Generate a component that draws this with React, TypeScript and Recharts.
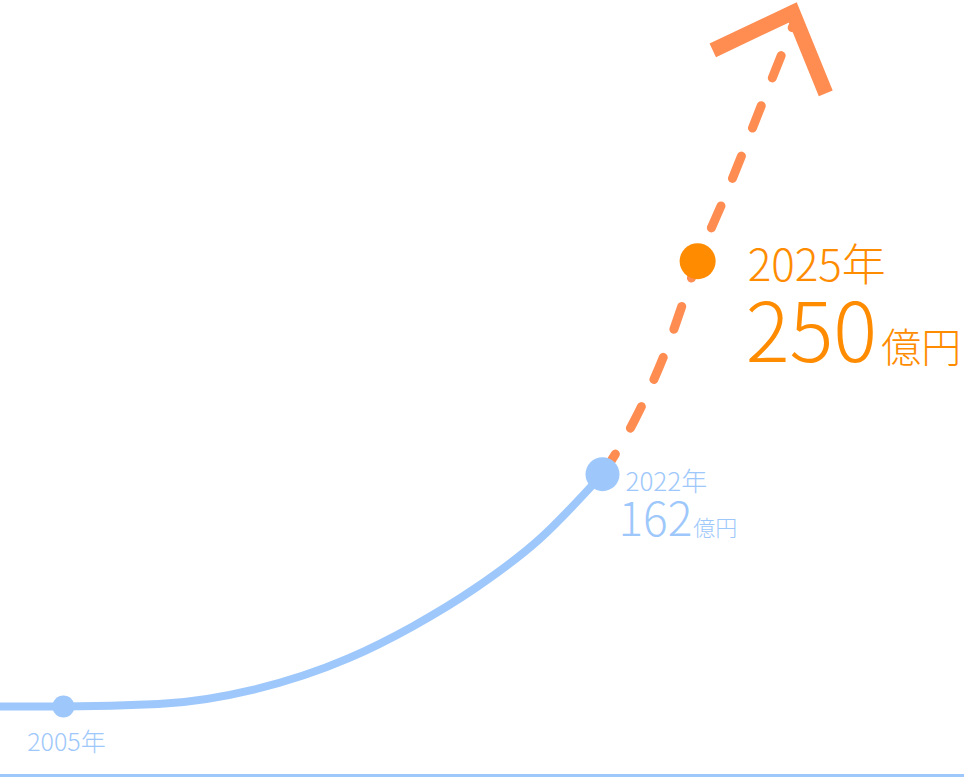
import React from 'react'
import { LineChart, Line, XAxis, YAxis } from 'recharts'

// market size (億円) — actual curve and forecast
const ACTUAL_YEARS  = [2003, 2005, 2008, 2011, 2014, 2016, 2018, 2020, 2022]
const ACTUAL_VALUES = [66, 66, 67, 73, 86, 99, 115, 135, 162]

const FORECAST_YEARS  = [2022, 2023, 2024, 2025, 2026, 2027, 2028]
const FORECAST_VALUES = [162, 184, 213, 250, 281, 314, 347]

const UNIT = '億円'
const YEAR_SUFFIX = '年'

const BLUE        = '#9ec8fb'
const ORANGE_LINE = '#ff8d52'
const ORANGE      = '#ff8c00'
const FONT = '"Noto Sans CJK JP", "Noto Sans", sans-serif'

const actualData   = ACTUAL_YEARS.map((year, i) => ({ year, value: ACTUAL_VALUES[i] }))
const forecastData = FORECAST_YEARS.map((year, i) => ({ year, value: FORECAST_VALUES[i] }))

const START_YEAR = ACTUAL_YEARS[0]
const LAST_ACTUAL = ACTUAL_YEARS[ACTUAL_YEARS.length - 1]
const TARGET_YEAR = 2025
const ARROW_YEAR = FORECAST_YEARS[FORECAST_YEARS.length - 1]

function ActualDot(props: any) {
  const { cx, cy, index, payload } = props
  const key = `a-${index}`
  if (payload.year === 2005) {
    return (
      <g key={key}>
        <circle cx={cx} cy={cy} r={11} fill={BLUE} />
        <text x={cx + 3} y={cy + 44} textAnchor="middle" fontSize={25} fontWeight={300} fill={BLUE} fontFamily={FONT}>
          {payload.year}{YEAR_SUFFIX}
        </text>
      </g>
    )
  }
  if (payload.year === LAST_ACTUAL) {
    return (
      <g key={key}>
        <circle cx={cx} cy={cy} r={17} fill={BLUE} />
        <text x={cx + 23} y={cy + 17} fontSize={26} fontWeight={300} fill={BLUE} fontFamily={FONT}>
          {payload.year}{YEAR_SUFFIX}
        </text>
        <text x={cx + 16} y={cy + 62} fill={BLUE} fontFamily={FONT} fontWeight={300}>
          <tspan fontSize={46}>{payload.value}</tspan>
          <tspan fontSize={22} dx={1}>{UNIT}</tspan>
        </text>
      </g>
    )
  }
  return <g key={key} />
}

function ForecastDot(props: any) {
  const { cx, cy, index, payload } = props
  const key = `f-${index}`
  if (payload.year === TARGET_YEAR) {
    return (
      <g key={key}>
        <circle cx={cx} cy={cy} r={18} fill={ORANGE} />
        <text x={cx + 50} y={cy + 20} fontSize={44} fontWeight={300} fill={ORANGE} fontFamily={FONT}>
          {payload.year}{YEAR_SUFFIX}
        </text>
        <text x={cx + 48} y={cy + 101} fill={ORANGE} fontFamily={FONT} fontWeight={300}>
          <tspan fontSize={82}>{payload.value}</tspan>
          <tspan fontSize={40} dx={4}>{UNIT}</tspan>
        </text>
      </g>
    )
  }
  if (payload.year === ARROW_YEAR) {
    // chevron arrow head at the end of the forecast
    const pts = `${cx - 80},${cy + 24} ${cx},${cy - 14} ${cx + 33},${cy + 67}`
    return (
      <g key={key}>
        <polyline points={pts} fill="none" stroke={ORANGE_LINE} strokeWidth={15} strokeLinejoin="miter" strokeMiterlimit={10} />
      </g>
    )
  }
  return <g key={key} />
}

export default function App() {
  return (
    <div style={{ position: 'absolute', left: 0, top: 0, width: 964, height: 778, background: '#fff' }}>
      <LineChart width={964} height={778} margin={{ top: 7, right: 0, bottom: 1.5, left: 0 }}>
        <XAxis
          type="number"
          dataKey="year"
          domain={[START_YEAR, 2033.4]}
          tick={false}
          tickLine={false}
          height={1}
          axisLine={{ stroke: BLUE, strokeWidth: 3 }}
        />
        <YAxis type="number" dataKey="value" domain={[37.5, 355]} hide />
        <Line
          data={forecastData}
          dataKey="value"
          type="monotone"
          stroke={ORANGE_LINE}
          strokeWidth={9}
          strokeDasharray="24 30"
          strokeLinecap="round"
          dot={ForecastDot}
          activeDot={false}
          isAnimationActive={false}
        />
        <Line
          data={actualData}
          dataKey="value"
          type="monotone"
          stroke={BLUE}
          strokeWidth={8}
          dot={ActualDot}
          activeDot={false}
          isAnimationActive={false}
        />
      </LineChart>
    </div>
  )
}
